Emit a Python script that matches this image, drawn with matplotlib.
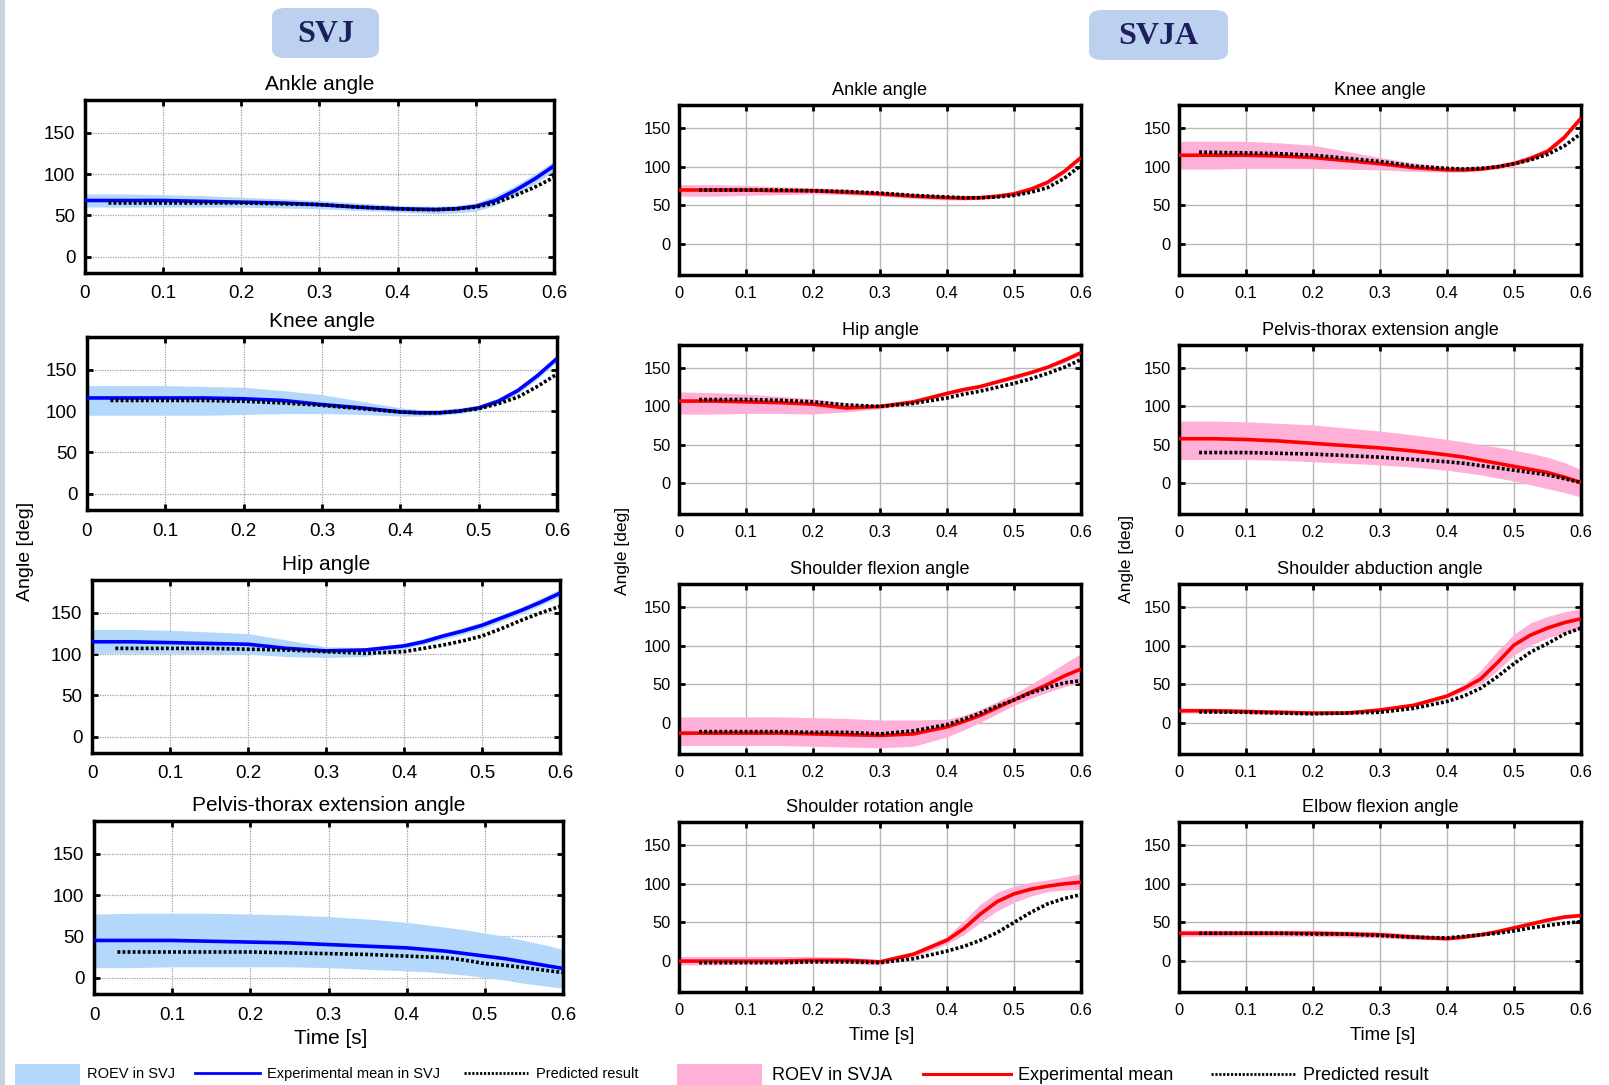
import matplotlib.pyplot as plt
from matplotlib import font_manager
from matplotlib.lines import Line2D
from matplotlib.patches import FancyBboxPatch, Rectangle

# time axis (s) for experimental mean / ROEV band, and for predicted result
T = [0.0, 0.05, 0.1, 0.15, 0.2, 0.25, 0.3, 0.35, 0.4,
     0.425, 0.45, 0.475, 0.5, 0.525, 0.55, 0.575, 0.6]
T_PRED = [0.03, 0.1, 0.15, 0.2, 0.25, 0.3, 0.35, 0.4,
          0.425, 0.45, 0.475, 0.5, 0.525, 0.55, 0.575, 0.6]
X_TICKS = [0, 0.1, 0.2, 0.3, 0.4, 0.5, 0.6]
X_TICK_LABELS = ["0", "0.1", "0.2", "0.3", "0.4", "0.5", "0.6"]
Y_TICKS = [0, 50, 100, 150]

# ---- SVJ ----
svj_ankle_mean = [68, 68, 68, 67, 66, 65, 63, 60, 58, 57.5, 57, 58, 61, 68, 80, 94, 110]
svj_ankle_up = [76, 76, 75, 74, 72, 70, 68, 65, 62, 61, 61, 62, 65, 74, 86, 100, 116]
svj_ankle_lo = [60, 60, 60, 60, 60, 59, 58, 56, 54, 53, 52, 53, 55, 62, 74, 88, 104]
svj_ankle_pred = [65, 65, 65, 65, 64, 63, 60, 58, 57, 57, 58, 60, 65, 74, 84, 96]

svj_knee_mean = [116, 116, 116, 116, 115, 113, 108, 104, 99, 98, 98, 100, 104, 112, 125, 143, 164]
svj_knee_up = [131, 131, 131, 130, 129, 125, 120, 112, 104, 102, 102, 104, 107, 116, 129, 147, 168]
svj_knee_lo = [95, 95, 95, 95, 96, 97, 97, 96, 94, 94, 95, 97, 101, 109, 121, 139, 160]
svj_knee_pred = [113, 113, 113, 112, 110, 107, 103, 99, 98, 98, 100, 103, 109, 117, 130, 145]

svj_hip_mean = [115, 115, 114, 113, 112, 107, 104, 105, 110, 115, 122, 128, 135, 144, 153, 163, 174]
svj_hip_up = [130, 130, 129, 127, 125, 117, 109, 108, 113, 119, 125, 132, 139, 148, 157, 168, 179]
svj_hip_lo = [101, 101, 101, 101, 100, 97, 96, 97, 106, 112, 118, 124, 131, 140, 149, 159, 170]
svj_hip_pred = [107, 107, 107, 106, 105, 103, 101, 103, 107, 111, 116, 122, 131, 141, 150, 158]

svj_pelvis_mean = [45, 45, 45, 44, 43, 42, 40, 38, 36, 34, 32, 29, 26, 23, 19, 15, 11]
svj_pelvis_up = [77, 78, 78, 78, 77, 76, 74, 71, 67, 64, 61, 58, 54, 50, 45, 40, 34]
svj_pelvis_lo = [12, 12, 13, 13, 13, 13, 12, 10, 8, 7, 5, 3, 0, -3, -7, -10, -13]
svj_pelvis_pred = [31, 31, 31, 31, 30, 29, 28, 26, 25, 24, 21, 17, 15, 12, 9, 6]

# ---- SVJA ----
svja_ankle_mean = [70, 70, 70, 69, 69, 67, 65, 62, 60, 59.5, 60, 62, 65, 71, 80, 94, 112]
svja_ankle_up = [77, 77, 76, 74, 73, 71, 68, 65, 62, 62, 62, 64, 67, 74, 83, 97, 115]
svja_ankle_lo = [62, 62, 63, 64, 65, 64, 62, 59, 57, 57, 58, 60, 62, 68, 77, 91, 109]
svja_ankle_pred = [70, 70, 70, 69, 68, 66, 63, 61, 60, 60, 61, 63, 67, 73, 85, 102]

svja_knee_mean = [115, 115, 115, 114, 112, 108, 104, 99, 96, 96, 97, 100, 104, 111, 120, 138, 163]
svja_knee_up = [133, 133, 133, 131, 128, 120, 112, 105, 100, 99, 100, 103, 108, 115, 124, 142, 166]
svja_knee_lo = [97, 97, 98, 98, 98, 97, 96, 94, 93, 93, 95, 97, 101, 108, 117, 135, 160]
svja_knee_pred = [119, 118, 117, 115, 111, 107, 101, 98, 97, 98, 100, 104, 109, 116, 127, 143]

svja_hip_mean = [107, 107, 106, 105, 103, 98, 100, 106, 117, 122, 126, 132, 138, 144, 151, 160, 170]
svja_hip_up = [119, 118, 116, 113, 110, 104, 101, 107, 118, 123, 128, 134, 140, 147, 154, 163, 172]
svja_hip_lo = [90, 90, 91, 91, 90, 93, 97, 104, 114, 119, 124, 130, 135, 142, 149, 157, 167]
svja_hip_pred = [109, 109, 108, 106, 102, 100, 104, 111, 116, 120, 125, 130, 136, 143, 151, 161]

svja_pelvis_mean = [58, 58, 57, 55, 52, 49, 46, 42, 37, 34, 30, 26, 22, 18, 14, 8, 1]
svja_pelvis_up = [81, 81, 80, 78, 76, 72, 68, 63, 57, 54, 50, 47, 43, 39, 34, 27, 18]
svja_pelvis_lo = [31, 31, 31, 30, 28, 26, 24, 21, 17, 14, 11, 7, 3, -2, -7, -12, -18]
svja_pelvis_pred = [40, 40, 39, 38, 36, 34, 31, 28, 26, 23, 20, 17, 14, 11, 6, 1]

svja_sflex_mean = [-13, -13, -13, -13, -14, -15, -16, -14, -5, 2, 10, 20, 30, 40, 50, 61, 70]
svja_sflex_up = [8, 8, 8, 8, 7, 6, 4, 4, 5, 10, 18, 28, 38, 50, 63, 77, 90]
svja_sflex_lo = [-29, -29, -29, -29, -30, -31, -32, -30, -18, -9, 1, 12, 23, 32, 40, 47, 53]
svja_sflex_pred = [-11, -11, -11, -12, -12, -14, -10, -2, 5, 13, 22, 30, 39, 46, 52, 55]

svja_sabd_mean = [16, 16, 15, 14, 13, 13, 17, 23, 35, 45, 57, 78, 101, 114, 123, 130, 135]
svja_sabd_up = [19, 19, 18, 17, 15, 15, 18, 25, 38, 50, 68, 93, 115, 130, 138, 144, 148]
svja_sabd_lo = [13, 13, 12, 11, 11, 11, 15, 21, 32, 41, 50, 68, 88, 101, 110, 117, 122]
svja_sabd_pred = [14.5, 14, 13, 12, 13, 14, 19, 28, 35, 45, 60, 77, 92, 103, 115, 123]

svja_srot_mean = [0, 0, 0, 0, 1, 1, -1, 9, 27, 42, 61, 77, 87, 93, 97, 100, 102]
svja_srot_up = [6, 6, 6, 6, 6, 5, 2, 12, 32, 52, 74, 89, 97, 102, 105, 109, 113]
svja_srot_lo = [-5, -5, -4, -4, -3, -3, -5, 5, 22, 34, 50, 65, 76, 84, 90, 92, 93]
svja_srot_pred = [-2, -2, -2, -1, -1, -2, 3, 13, 19, 27, 37, 50, 63, 74, 81, 86]

svja_elbow_mean = [36, 36, 36, 36, 36, 35, 34, 31, 29, 31, 34, 38, 43, 48, 53, 57, 59]
svja_elbow_up = [40, 40, 40, 40, 40, 39, 38, 35, 31, 33, 36, 40, 45, 50, 55, 59, 61]
svja_elbow_lo = [32, 32, 32, 32, 32, 31, 30, 28, 27, 29, 32, 36, 41, 46, 51, 55, 57]
svja_elbow_pred = [36, 36, 36, 35, 35, 33, 31, 30, 32, 34, 36, 39, 43, 46, 49, 51]

# colours
BLUE, LIGHTBLUE = "#0000ff", "#b3d8fc"
RED, PINK = "#ff0000", "#ffb0d8"
BOX = "#bcd1ef"
NAVY = "#1e1e5c"

names = {f.name for f in font_manager.fontManager.ttflist}
NARROW = "Liberation Sans Narrow" if "Liberation Sans Narrow" in names else "Liberation Sans"
narrow_scale = 1.0 if NARROW == "Liberation Sans Narrow" else 0.84
plt.rcParams["font.family"] = ["Liberation Sans", "DejaVu Sans"]

W, H = 1609, 1085
fig = plt.figure(figsize=(W / 100, H / 100), dpi=100)


def rect(x0, y0, x1, y1):
    return [x0 / W, 1 - y1 / H, (x1 - x0) / W, (y1 - y0) / H]


def draw_panel(box, title, mean, up, lo, pred, svja):
    ax = fig.add_axes(rect(*box))
    ax.fill_between(T, lo, up, color=PINK if svja else LIGHTBLUE, lw=0, zorder=2)
    ax.plot(T, mean, color=RED if svja else BLUE, lw=2.6, zorder=3,
            solid_joinstyle="round", solid_capstyle="butt")
    ax.plot(T_PRED, pred, color="black", lw=2.6, ls=(0, (0.8, 0.6)), zorder=4)
    ax.set_xlim(0, 0.6)
    ax.set_ylim(*((-40, 180) if svja else (-20, 190)))
    ax.set_xticks(X_TICKS)
    ax.set_yticks(Y_TICKS)
    if svja:
        ax.set_xticklabels(X_TICK_LABELS, family=NARROW, fontsize=14 * narrow_scale)
        ax.set_yticklabels([str(v) for v in Y_TICKS], family=NARROW, fontsize=14 * narrow_scale)
        ax.grid(True, color="#b8b8b8", lw=1.0, ls="-", zorder=1)
        ax.set_title(title, family=NARROW, fontsize=15.5 * narrow_scale, pad=7)
        ax.tick_params(axis="x", pad=8)
        ax.tick_params(axis="y", pad=6)
    else:
        ax.set_xticklabels(X_TICK_LABELS, fontsize=13.5)
        ax.set_yticklabels([str(v) for v in Y_TICKS], fontsize=13.5)
        ax.grid(True, color="#a0a0a0", lw=0.9, ls=(0, (1, 1)), zorder=1)
        ax.set_title(title, fontsize=15, pad=7)
        ax.tick_params(axis="x", pad=9)
        ax.tick_params(axis="y", pad=7)
    ax.tick_params(direction="in", top=True, right=True, length=4, width=2)
    for s in ax.spines.values():
        s.set_linewidth(2.5)
    return ax


# left column (SVJ)
draw_panel((85, 100, 554, 273), "Ankle angle", svj_ankle_mean, svj_ankle_up, svj_ankle_lo, svj_ankle_pred, False)
draw_panel((87, 337, 557, 510), "Knee angle", svj_knee_mean, svj_knee_up, svj_knee_lo, svj_knee_pred, False)
draw_panel((92, 580, 560, 753), "Hip angle", svj_hip_mean, svj_hip_up, svj_hip_lo, svj_hip_pred, False)
draw_panel((94, 821, 563, 994), "Pelvis-thorax extension angle", svj_pelvis_mean, svj_pelvis_up,
           svj_pelvis_lo, svj_pelvis_pred, False)

# SVJA columns
MX = (679, 1081)
RX = (1179, 1581)
ROWS = [(105, 275), (345, 514), (584, 754), (822, 992)]
draw_panel((MX[0], ROWS[0][0], MX[1], ROWS[0][1]), "Ankle angle", svja_ankle_mean, svja_ankle_up,
           svja_ankle_lo, svja_ankle_pred, True)
draw_panel((RX[0], ROWS[0][0], RX[1], ROWS[0][1]), "Knee angle", svja_knee_mean, svja_knee_up,
           svja_knee_lo, svja_knee_pred, True)
draw_panel((MX[0], ROWS[1][0], MX[1], ROWS[1][1]), "Hip angle", svja_hip_mean, svja_hip_up,
           svja_hip_lo, svja_hip_pred, True)
draw_panel((RX[0], ROWS[1][0], RX[1], ROWS[1][1]), "Pelvis-thorax extension angle", svja_pelvis_mean,
           svja_pelvis_up, svja_pelvis_lo, svja_pelvis_pred, True)
draw_panel((MX[0], ROWS[2][0], MX[1], ROWS[2][1]), "Shoulder flexion angle", svja_sflex_mean,
           svja_sflex_up, svja_sflex_lo, svja_sflex_pred, True)
draw_panel((RX[0], ROWS[2][0], RX[1], ROWS[2][1]), "Shoulder abduction angle", svja_sabd_mean,
           svja_sabd_up, svja_sabd_lo, svja_sabd_pred, True)
draw_panel((MX[0], ROWS[3][0], MX[1], ROWS[3][1]), "Shoulder rotation angle", svja_srot_mean,
           svja_srot_up, svja_srot_lo, svja_srot_pred, True)
draw_panel((RX[0], ROWS[3][0], RX[1], ROWS[3][1]), "Elbow flexion angle", svja_elbow_mean,
           svja_elbow_up, svja_elbow_lo, svja_elbow_pred, True)


def fx(x):
    return x / W


def fy(y):
    return 1 - y / H


# header boxes
for (x0, y0, x1, y1, label) in [(272, 8, 379, 58, "SVJ"), (1089, 10, 1228, 60, "SVJA")]:
    fig.add_artist(FancyBboxPatch((fx(x0), fy(y1)), (x1 - x0) / W, (y1 - y0) / H,
                                  boxstyle="round,pad=0,rounding_size=0.008",
                                  transform=fig.transFigure, fc=BOX, ec="none"))
    fig.text(fx((x0 + x1) / 2), fy((y0 + y1) / 2 + 1), label, ha="center", va="center",
             family=["Liberation Serif", "DejaVu Serif"], fontweight="bold", fontsize=23, color=NAVY)

# axis labels
fig.text(fx(26), fy(551), "Angle [deg]", rotation=90, ha="center", va="center", fontsize=14)
fig.text(fx(623), fy(551), "Angle [deg]", rotation=90, ha="center", va="center",
         family=NARROW, fontsize=15 * narrow_scale)
fig.text(fx(1127), fy(559), "Angle [deg]", rotation=90, ha="center", va="center",
         family=NARROW, fontsize=15 * narrow_scale)
fig.text(fx(331), fy(1039), "Time [s]", ha="center", va="center", fontsize=15)
fig.text(fx(882), fy(1036), "Time [s]", ha="center", va="center", family=NARROW, fontsize=16 * narrow_scale)
fig.text(fx(1383), fy(1036), "Time [s]", ha="center", va="center", family=NARROW, fontsize=16 * narrow_scale)

# left edge strip
fig.add_artist(Rectangle((0, 0), 5 / W, 1, transform=fig.transFigure, fc="#c9d3de", ec="none"))

# legends
LY = 1074
LEFT_FS = 12.5 if NARROW == "Liberation Sans Narrow" else 10.5
fig.add_artist(Rectangle((fx(15), 0), 65 / W, (H - 1064) / H, transform=fig.transFigure,
                         fc=LIGHTBLUE, ec="none"))
fig.text(fx(87), fy(LY), "ROEV in SVJ", va="center", family=NARROW, fontsize=LEFT_FS)
fig.add_artist(Line2D([fx(195), fx(260)], [fy(LY - 1)] * 2, transform=fig.transFigure, color=BLUE, lw=2))
fig.text(fx(267), fy(LY), "Experimental mean in SVJ", va="center", family=NARROW, fontsize=LEFT_FS)
fig.add_artist(Line2D([fx(464), fx(528)], [fy(LY - 1)] * 2, transform=fig.transFigure, color="black",
                      lw=2, ls=(0, (0.8, 0.6))))
fig.text(fx(536), fy(LY), "Predicted result", va="center", family=NARROW, fontsize=LEFT_FS)

fig.add_artist(Rectangle((fx(677), 0), 85 / W, (H - 1064) / H, transform=fig.transFigure,
                         fc=PINK, ec="none"))
fig.text(fx(772), fy(LY + 1), "ROEV in SVJA", va="center", fontsize=13)
fig.add_artist(Line2D([fx(923), fx(1011)], [fy(LY)] * 2, transform=fig.transFigure, color=RED, lw=2.2))
fig.text(fx(1018), fy(LY + 1), "Experimental mean", va="center", fontsize=13)
fig.add_artist(Line2D([fx(1211), fx(1295)], [fy(LY)] * 2, transform=fig.transFigure, color="black",
                      lw=2, ls=(0, (0.8, 0.6))))
fig.text(fx(1303), fy(LY + 1), "Predicted result", va="center", fontsize=13)

fig.savefig("out.png", dpi=100)
